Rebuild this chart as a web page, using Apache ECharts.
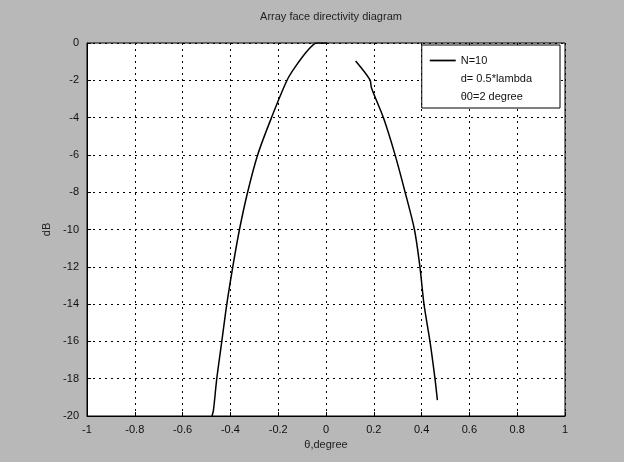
<!DOCTYPE html>
<html><head><meta charset="utf-8">
<script src="https://cdn.jsdelivr.net/npm/echarts@6/dist/echarts.min.js"></script>
<style>html,body{margin:0;padding:0;background:#b8b8b8;}#c{width:624px;height:462px;}</style>
</head><body><div id="c"></div>
<script>
var titleText = 'Array face directivity diagram';
var xLabel = 'θ,degree';
var yLabel = 'dB';
var legendNames = ['N=10', 'd= 0.5*lambda', 'θ0=2 degree'];
// main lobe, left side through peak (x, dB)
var leftX = [-0.477, -0.471, -0.457, -0.436, -0.415, -0.390, -0.362, -0.328, -0.286, -0.228, -0.163, -0.128, -0.075, -0.039, 0.004];
var leftY = [-20, -19.7, -18, -16, -14, -12, -10, -8, -6, -4, -2, -1.27, -0.38, 0, 0];
// right side (printed separately)
var rightX = [0.124, 0.184, 0.190, 0.240, 0.289, 0.331, 0.370, 0.393, 0.410, 0.435, 0.456, 0.466];
var rightY = [-0.97, -1.98, -2.4, -4, -6, -8, -10, -12, -14, -16, -18, -19.15];

function pairs(xs, ys){ return xs.map(function(x,i){ return [x, ys[i]]; }); }

var chart = echarts.init(document.getElementById('c'));
function axisCommon(){ return {
  axisLine:{show:true, onZero:false, lineStyle:{color:'#000', width:1}},
  axisTick:{show:true, inside:true, length:4, lineStyle:{color:'#000'}},
  axisLabel:{color:'#111', fontFamily:'Liberation Sans', fontSize:11},
  splitLine:{show:true, lineStyle:{color:'#000', type:[2,4], width:1}}
}; }
var lineIcon = 'path://M0,0 L30,0 L30,2 L0,2 Z';
chart.setOption({
  backgroundColor:'#b8b8b8',
  animation:false,
  title:{text:titleText, left:326, textAlign:'center', top:6,
    textStyle:{fontFamily:'Liberation Sans', fontSize:11, fontWeight:'normal', color:'#222'}},
  grid:{left:87, right:59, top:43, bottom:46, show:true, backgroundColor:'#fff', borderColor:'#000', borderWidth:1},
  legend:{
    right:64, top:45, orient:'vertical', itemGap:7, itemWidth:26, itemHeight:10,
    backgroundColor:'#fff', borderColor:'#000', borderWidth:1, padding:[10,28,6,8],
    textStyle:{fontFamily:'Liberation Sans', fontSize:11, color:'#111'},
    data:[{name:legendNames[0], icon:lineIcon}, {name:legendNames[1], icon:'none'}, {name:legendNames[2], icon:'none'}]
  },
  xAxis:Object.assign({type:'value', min:-1, max:1, interval:0.2,
    name:xLabel, nameLocation:'middle', nameGap:22,
    nameTextStyle:{fontFamily:'Liberation Sans', fontSize:11, color:'#222'}}, axisCommon()),
  yAxis:Object.assign({type:'value', min:-20, max:0, interval:2,
    name:yLabel, nameLocation:'middle', nameGap:24,
    nameTextStyle:{fontFamily:'Liberation Sans', fontSize:11, color:'#222'}}, axisCommon()),
  series:[
    {name:legendNames[0], type:'line', data:pairs(leftX, leftY), showSymbol:false, symbol:'none', smooth:0.3,
      lineStyle:{color:'#000', width:1.5}, itemStyle:{color:'#000'}},
    {name:'right', type:'line', data:pairs(rightX, rightY), showSymbol:false, symbol:'none', smooth:0.3,
      lineStyle:{color:'#000', width:1.5}, itemStyle:{color:'#000'}},
    {name:legendNames[1], type:'line', data:[], itemStyle:{color:'#000'}},
    {name:legendNames[2], type:'line', data:[], itemStyle:{color:'#000'}}
  ]
});
</script></body></html>
